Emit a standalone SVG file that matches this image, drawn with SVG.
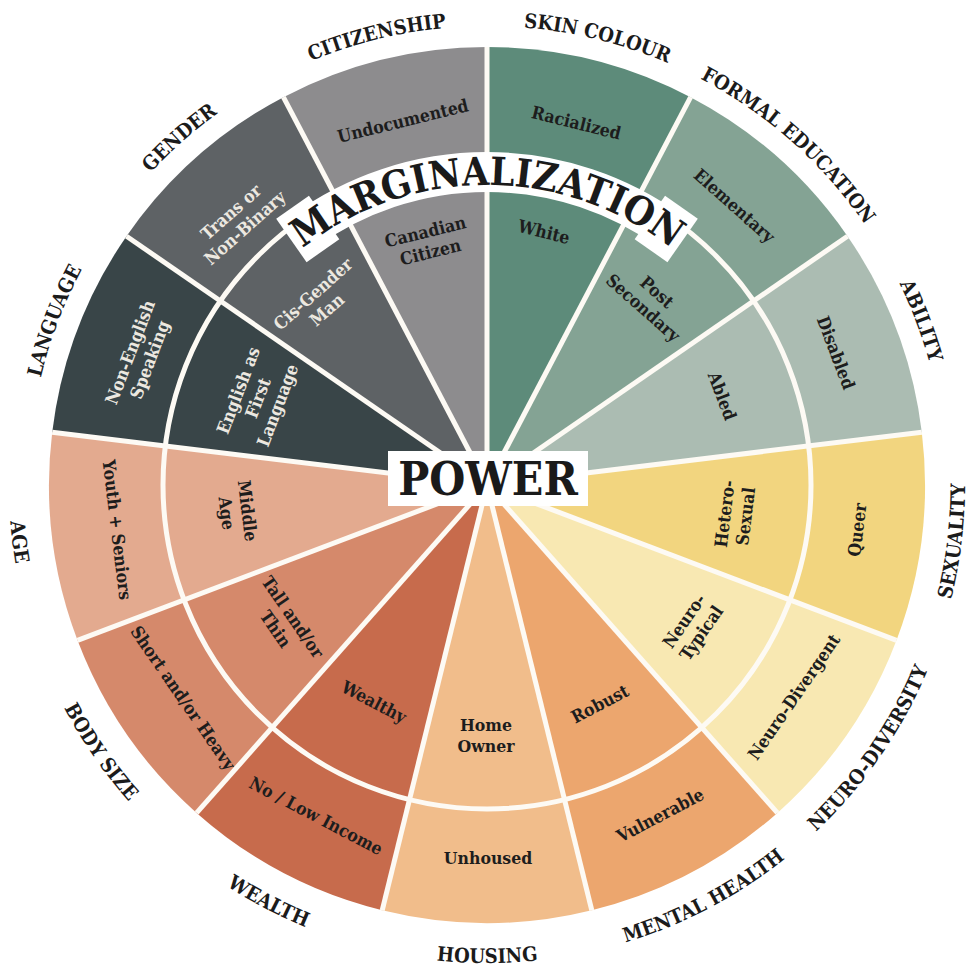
<svg xmlns="http://www.w3.org/2000/svg" width="975" height="976" viewBox="0 0 975 976">
<style>
.lbl{font-family:"DejaVu Serif","Liberation Serif",serif;font-weight:bold;font-stretch:condensed;font-size:17.5px;text-anchor:middle}
.cat{font-family:"DejaVu Serif","Liberation Serif",serif;font-weight:bold;font-stretch:condensed;font-size:20px;fill:#1b1b1b}
.dk{fill:#1d1d1d}
.lt{fill:#ece8e0}
.div{stroke:#fdfaf4;stroke-width:5;fill:none}
.big{font-family:"DejaVu Serif","Liberation Serif",serif;font-weight:bold;font-stretch:condensed;fill:#1a1a1a}
</style>
<defs>
<path id="frown" d="M487,944 A459,459 0 1 1 487,26 A459,459 0 1 1 487,944"/>
<path id="smile" d="M487,7 A478,478 0 1 0 487,963 A478,478 0 1 0 487,7"/>
<path id="marg" d="M487,785 A300,300 0 1 1 487,185 A300,300 0 1 1 487,785"/>
</defs>
<rect width="975" height="976" fill="#ffffff"/>

<g id="skin-colour">
<path d="M487,485 L487,47 A438,438 0 0 1 690.6,97.2 Z" fill="#5d8b7a"/>
<text class="lbl dk" transform="translate(576.3,122.9) rotate(13.85)"><tspan x="0" y="6">Racialized</tspan></text>
<text class="lbl dk" transform="translate(544,232) rotate(13.85)"><tspan x="0" y="6">White</tspan></text>
<text class="cat"><textPath href="#frown" startOffset="1552.91" text-anchor="middle">SKIN COLOUR</textPath></text>
</g>
<g id="formal-education">
<path d="M487,485 L690.6,97.2 A438,438 0 0 1 847.5,236.2 Z" fill="#84a394"/>
<text class="lbl dk" transform="translate(734.3,205.8) rotate(41.54)"><tspan x="0" y="6">Elementary</tspan></text>
<text class="lbl dk" transform="translate(650,300) rotate(41.54)"><tspan x="0" y="-4.5">Post</tspan><tspan x="0" dy="21">Secondary</tspan></text>
<text class="cat"><textPath href="#frown" startOffset="1774.76" text-anchor="middle">FORMAL EDUCATION</textPath></text>
</g>
<g id="ability">
<path d="M487,485 L847.5,236.2 A438,438 0 0 1 921.8,432.2 Z" fill="#abbcb2"/>
<text class="lbl dk" transform="translate(835.8,352.7) rotate(69.23)"><tspan x="0" y="6">Disabled</tspan></text>
<text class="lbl dk" transform="translate(722,396) rotate(69.23)"><tspan x="0" y="6">Abled</tspan></text>
<text class="cat"><textPath href="#frown" startOffset="1996.60" text-anchor="middle">ABILITY</textPath></text>
</g>
<g id="sexuality">
<path d="M487,485 L921.8,432.2 A438,438 0 0 1 896.5,640.3 Z" fill="#f2d57f"/>
<text class="lbl dk" transform="translate(857.3,529.9) rotate(-83.08)"><tspan x="0" y="6">Queer</tspan></text>
<text class="lbl dk" transform="translate(735.2,515.1) rotate(-83.08)"><tspan x="0" y="-4.5">Hetero-</tspan><tspan x="0" dy="21">Sexual</tspan></text>
<text class="cat"><textPath href="#smile" startOffset="2194.76" text-anchor="middle">SEXUALITY</textPath></text>
</g>
<g id="neuro-diversity">
<path d="M487,485 L896.5,640.3 A438,438 0 0 1 777.4,812.9 Z" fill="#f8e8b2"/>
<text class="lbl dk" transform="translate(794,696.9) rotate(-55.38)"><tspan x="0" y="6">Neuro-Divergent</tspan></text>
<text class="lbl dk" transform="translate(692.8,627) rotate(-55.38)"><tspan x="0" y="-4.5">Neuro-</tspan><tspan x="0" dy="21">Typical</tspan></text>
<text class="cat"><textPath href="#smile" startOffset="1963.74" text-anchor="middle">NEURO-DIVERSITY</textPath></text>
</g>
<g id="mental-health">
<path d="M487,485 L777.4,812.9 A438,438 0 0 1 591.8,910.3 Z" fill="#eca66e"/>
<text class="lbl dk" transform="translate(660.3,815.3) rotate(-27.69)"><tspan x="0" y="6">Vulnerable</tspan></text>
<text class="lbl dk" transform="translate(600,704) rotate(-27.69)"><tspan x="0" y="6">Robust</tspan></text>
<text class="cat"><textPath href="#smile" startOffset="1732.70" text-anchor="middle">MENTAL HEALTH</textPath></text>
</g>
<g id="housing">
<path d="M487,485 L591.8,910.3 A438,438 0 0 1 382.2,910.3 Z" fill="#f1bd8b"/>
<text class="lbl dk" transform="translate(488,858)"><tspan x="0" y="6">Unhoused</tspan></text>
<text class="lbl dk" transform="translate(486,735)"><tspan x="0" y="-4.5">Home</tspan><tspan x="0" dy="21">Owner</tspan></text>
<text class="cat"><textPath href="#smile" startOffset="1501.68" text-anchor="middle">HOUSING</textPath></text>
</g>
<g id="wealth">
<path d="M487,485 L382.2,910.3 A438,438 0 0 1 196.6,812.9 Z" fill="#c76b4c"/>
<text class="lbl dk" transform="translate(316,816) rotate(27.69)"><tspan x="0" y="6">No / Low Income</tspan></text>
<text class="lbl dk" transform="translate(374,702) rotate(27.69)"><tspan x="0" y="6">Wealthy</tspan></text>
<text class="cat"><textPath href="#smile" startOffset="1270.66" text-anchor="middle">WEALTH</textPath></text>
</g>
<g id="body-size">
<path d="M487,485 L196.6,812.9 A438,438 0 0 1 77.5,640.3 Z" fill="#d5896b"/>
<text class="lbl dk" transform="translate(183,698) rotate(55.38)"><tspan x="0" y="6">Short and/or Heavy</tspan></text>
<text class="lbl dk" transform="translate(284,623) rotate(55.38)"><tspan x="0" y="-4.5">Tall and/or</tspan><tspan x="0" dy="21">Thin</tspan></text>
<text class="cat"><textPath href="#smile" startOffset="1039.61" text-anchor="middle">BODY SIZE</textPath></text>
</g>
<g id="age">
<path d="M487,485 L77.5,640.3 A438,438 0 0 1 52.2,432.2 Z" fill="#e3aa8f"/>
<text class="lbl dk" transform="translate(117,529.9) rotate(83.08)"><tspan x="0" y="6">Youth + Seniors</tspan></text>
<text class="lbl dk" transform="translate(237,512) rotate(83.08)"><tspan x="0" y="-4.5">Middle</tspan><tspan x="0" dy="21">Age</tspan></text>
<text class="cat"><textPath href="#smile" startOffset="808.60" text-anchor="middle">AGE</textPath></text>
</g>
<g id="language">
<path d="M487,485 L52.2,432.2 A438,438 0 0 1 126.5,236.2 Z" fill="#394548"/>
<text class="lbl lt" transform="translate(140,356) rotate(-69.23)"><tspan x="0" y="-4.5">Non-English</tspan><tspan x="0" dy="21">Speaking</tspan></text>
<text class="lbl lt" transform="translate(258,398) rotate(-69.23)"><tspan x="0" y="-15">English as</tspan><tspan x="0" dy="21">First</tspan><tspan x="0" dy="21">Language</tspan></text>
<text class="cat"><textPath href="#frown" startOffset="887.38" text-anchor="middle">LANGUAGE</textPath></text>
</g>
<g id="gender">
<path d="M487,485 L126.5,236.2 A438,438 0 0 1 283.4,97.2 Z" fill="#5e6265"/>
<text class="lbl lt" transform="translate(238,220) rotate(-41.54)"><tspan x="0" y="-4.5">Trans or</tspan><tspan x="0" dy="21">Non-Binary</tspan></text>
<text class="lbl lt" transform="translate(320,302) rotate(-41.54)"><tspan x="0" y="-4.5">Cis-Gender</tspan><tspan x="0" dy="21">Man</tspan></text>
<text class="cat"><textPath href="#frown" startOffset="1109.22" text-anchor="middle">GENDER</textPath></text>
</g>
<g id="citizenship">
<path d="M487,485 L283.4,97.2 A438,438 0 0 1 487,47 Z" fill="#8d8c8e"/>
<text class="lbl dk" transform="translate(403,121) rotate(-13.85)"><tspan x="0" y="6">Undocumented</tspan></text>
<text class="lbl dk" transform="translate(428,242) rotate(-13.85)"><tspan x="0" y="-4.5">Canadian</tspan><tspan x="0" dy="21">Citizen</tspan></text>
<text class="cat"><textPath href="#frown" startOffset="1331.07" text-anchor="middle">CITIZENSHIP</textPath></text>
</g>

<g id="dividers" class="div">
<circle cx="487" cy="485" r="324"/>
<line x1="487" y1="485" x2="487" y2="47"/>
<line x1="487" y1="485" x2="690.6" y2="97.2"/>
<line x1="487" y1="485" x2="847.5" y2="236.2"/>
<line x1="487" y1="485" x2="921.8" y2="432.2"/>
<line x1="487" y1="485" x2="896.5" y2="640.3"/>
<line x1="487" y1="485" x2="777.4" y2="812.9"/>
<line x1="487" y1="485" x2="591.8" y2="910.3"/>
<line x1="487" y1="485" x2="382.2" y2="910.3"/>
<line x1="487" y1="485" x2="196.6" y2="812.9"/>
<line x1="487" y1="485" x2="77.5" y2="640.3"/>
<line x1="487" y1="485" x2="52.2" y2="432.2"/>
<line x1="487" y1="485" x2="126.5" y2="236.2"/>
<line x1="487" y1="485" x2="283.4" y2="97.2"/>
</g>

<g id="marginalization">
<path d="M303,231.8 A313,313 0 0 1 671,231.8" fill="none" stroke="#ffffff" stroke-width="40"/>
<rect x="467" y="146" width="40" height="53" fill="#ffffff" transform="rotate(-35 487 485)"/>
<rect x="467" y="146" width="40" height="53" fill="#ffffff" transform="rotate(35 487 485)"/>
<text class="big" font-size="39"><textPath href="#marg" startOffset="942.48" text-anchor="middle">MARGINALIZATION</textPath></text>
</g>

<g id="power">
<rect x="388" y="451" width="200" height="55" fill="#ffffff"/>
<text class="big" x="488" y="495" font-size="46" text-anchor="middle">POWER</text>
</g>
</svg>
